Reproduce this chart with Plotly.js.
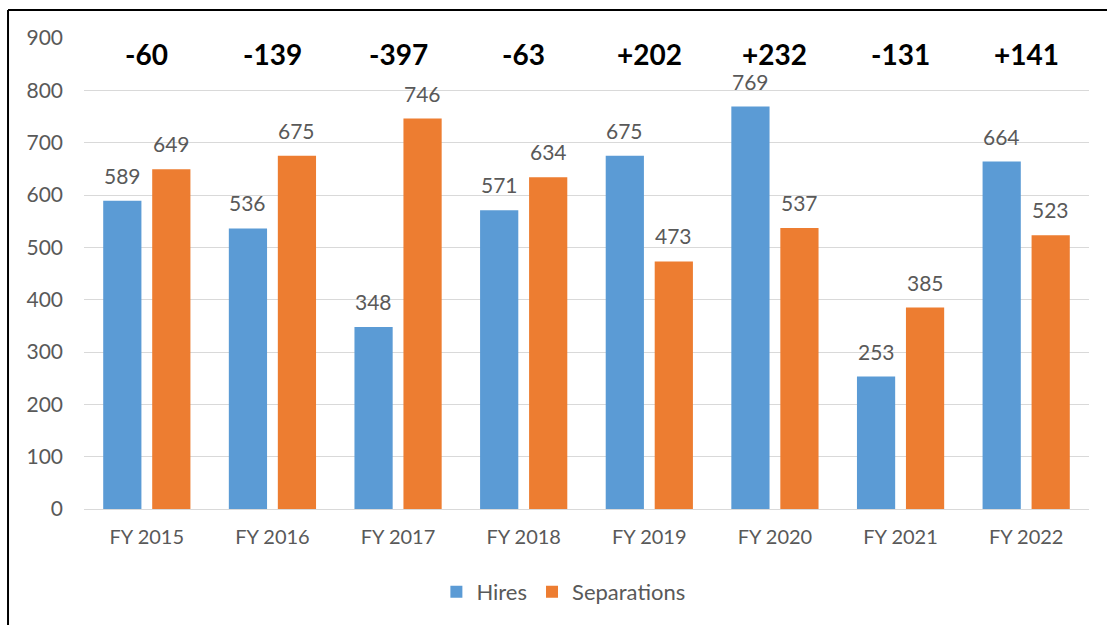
<!DOCTYPE html>
<html>
<head>
<meta charset="utf-8">
<script src="https://cdn.plot.ly/plotly-3.0.1.min.js"></script>
<style>
html,body{margin:0;padding:0;background:#fff;}
#chart{width:1107px;height:625px;}
</style>
</head>
<body>
<div id="chart"></div>
<script>
const categories = ["FY 2015","FY 2016","FY 2017","FY 2018","FY 2019","FY 2020","FY 2021","FY 2022"];
const hires = [589, 536, 348, 571, 675, 769, 253, 664];
const separations = [649, 675, 746, 634, 473, 537, 385, 523];
const netLabels = ["-60","-139","-397","-63","+202","+232","-131","+141"];
const netLabelY = 869;

const FONT = "Lato, 'Open Sans', sans-serif";
const GRAY = "#595959";

const W = 1107, H = 625;
const M = {l: 84, r: 18, t: 38, b: 116};
const BARGAP = 0.22, BARGROUPGAP = 0.22;
const plotW = W - M.l - M.r;
const slotW = plotW / categories.length * (1 - BARGAP) / 2;

const traces = [
  {
    type: "bar", name: "Hires", x: categories, y: hires,
    marker: {color: "#5B9BD5"}
  },
  {
    type: "bar", name: "Separations", x: categories, y: separations,
    marker: {color: "#ED7D31"}
  }
];

const annotations = [];
categories.forEach((c, i) => {
  annotations.push({
    x: c, y: netLabelY, xref: "x", yref: "y",
    text: "<b>" + netLabels[i] + "</b>", showarrow: false,
    font: {family: FONT, size: 28, color: "#000000"},
    xanchor: "center", yanchor: "middle"
  });
  [[hires, -1], [separations, 1]].forEach(([arr, side]) => {
    annotations.push({
      x: c, y: arr[i], xref: "x", yref: "y",
      text: String(arr[i]), showarrow: false,
      font: {family: FONT, size: 21, color: GRAY},
      xanchor: "center", yanchor: "bottom",
      xshift: side * slotW / 2, yshift: 11
    });
  });
});

const layout = {
  width: W, height: H,
  margin: M,
  paper_bgcolor: "#FFFFFF", plot_bgcolor: "#FFFFFF",
  barmode: "group", bargap: BARGAP, bargroupgap: BARGROUPGAP,
  font: {family: FONT, size: 20, color: GRAY},
  xaxis: {
    type: "category", showgrid: false, zeroline: false,
    showline: true, linecolor: "#D9D9D9", linewidth: 1,
    ticks: "", tickfont: {family: FONT, size: 20, color: GRAY},
    ticklabelstandoff: 10
  },
  yaxis: {
    range: [0, 900], dtick: 100, tick0: 0,
    showgrid: true, gridcolor: "#D9D9D9", gridwidth: 1,
    zeroline: true, zerolinecolor: "#D9D9D9", zerolinewidth: 1,
    showline: false, ticks: "",
    tickfont: {family: FONT, size: 21, color: GRAY},
    ticklabelstandoff: 20
  },
  showlegend: true,
  legend: {
    orientation: "h", x: 0.477, xanchor: "center", y: -0.176, yanchor: "middle",
    font: {family: FONT, size: 22, color: GRAY},
    traceorder: "normal", itemwidth: 30
  },
  annotations: annotations,
  shapes: [
    {type: "line", xref: "paper", yref: "paper", x0: -0.0756, x1: 1.05, y0: 1.0594, y1: 1.0594,
     line: {color: "#000000", width: 2}},
    {type: "line", xref: "paper", yref: "paper", x0: -0.0756, x1: -0.0756, y0: 1.0594, y1: -0.3,
     line: {color: "#000000", width: 2}}
  ]
};

Plotly.newPlot("chart", traces, layout, {displayModeBar: false, staticPlot: true});
</script>
</body>
</html>
